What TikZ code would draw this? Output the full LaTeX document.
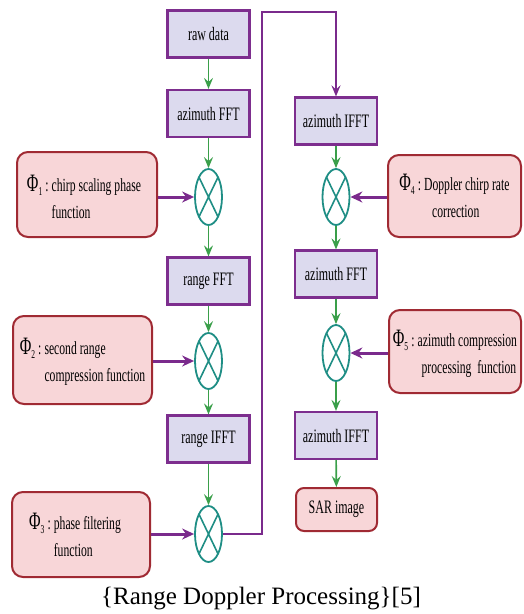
\documentclass[tikz,border=0pt]{standalone}
\usepackage{fontspec}
\setmainfont{Liberation Serif}
\newfontfamily\condfont{Liberation Serif}[FakeStretch=0.63]
\usetikzlibrary{shapes.geometric,arrows.meta}
\definecolor{boxfill}{HTML}{DCDAEE}
\definecolor{boxline}{HTML}{7D2E8E}
\definecolor{redfill}{HTML}{F8D6D8}
\definecolor{redline}{HTML}{A02A33}
\definecolor{tealx}{HTML}{1F8E85}
\definecolor{arrowgreen}{HTML}{3A9F4A}
\definecolor{purp}{HTML}{7A2A8C}
\newcommand\phisym[1]{{\fontsize{25}{25}\selectfont Φ}\raisebox{-4pt}{\fontsize{12}{12}\selectfont #1}\,:\,}
\tikzset{
  procbox/.style={draw=boxline, fill=boxfill, line width=2.2pt, minimum width=82pt, minimum height=47pt, inner sep=0pt, font=\condfont\fontsize{19}{22}\selectfont},
  phibox/.style={draw=redline, fill=redfill, line width=2pt, rounded corners=11pt, inner sep=0pt},
  phitext/.style={inner sep=0pt, font=\condfont\fontsize{18.5}{27}\selectfont},
  sarbox/.style={draw=redline, fill=redfill, line width=2pt, rounded corners=8pt, minimum width=81pt, minimum height=43pt, inner sep=0pt, font=\condfont\fontsize{19}{22}\selectfont},
  mult/.style={draw=tealx, line width=1.8pt, ellipse, minimum width=27pt, minimum height=56pt, inner sep=0pt, fill=white,
    path picture={\draw[tealx, line width=1.6pt]
      ([shift={(-14.25pt,-29.7pt)}]path picture bounding box.center) -- ([shift={(14.25pt,29.7pt)}]path picture bounding box.center)
      ([shift={(-14.25pt,29.7pt)}]path picture bounding box.center) -- ([shift={(14.25pt,-29.7pt)}]path picture bounding box.center);}},
  garrow/.style={draw=arrowgreen, line width=1.6pt, -{Stealth[length=11pt,width=9pt,inset=4pt]}},
  parrow/.style={draw=purp, line width=3pt, -{Stealth[length=12pt,width=11pt,inset=4pt]}},
  ploop/.style={draw=purp, line width=1.8pt, -{Stealth[length=11pt,width=9pt,inset=4pt]}},
}
\begin{document}
\begin{tikzpicture}[x=1pt,y=-1pt]
\useasboundingbox (0,0) rectangle (523,614);
% left column
\node[procbox] (raw) at (208.5,34) {raw data};
\node[procbox] (azfft1) at (208.5,113.5) {azimuth FFT};
\node[mult] (m1) at (208.5,197) {};
\node[procbox] (rfft) at (208.5,281) {range FFT};
\node[mult] (m2) at (208.5,361) {};
\node[procbox] (rifft) at (208.5,439) {range IFFT};
\node[mult] (m3) at (208.5,534) {};
% right column
\node[procbox] (azifft1) at (336,121) {azimuth IFFT};
\node[mult] (m4) at (336,197) {};
\node[procbox] (azfft2) at (336,274) {azimuth FFT};
\node[mult] (m5) at (336,353) {};
\node[procbox] (azifft2) at (336,435.5) {azimuth IFFT};
\node[sarbox] (sar) at (336.5,509.5) {SAR image};
% phase function boxes
\node[phibox, minimum width=140pt, minimum height=85pt] (p1) at (87,194.5) {};
\node[phitext] (p1t) at ([yshift=-5pt, xshift=-3pt]p1.center) {\phisym{1}\begin{tabular}[t]{@{}l@{}}chirp scaling phase\\function\end{tabular}};
\node[phibox, minimum width=139pt, minimum height=88pt] (p2) at (82.5,360) {};
\node[phitext] (p2t) at ([yshift=-3pt]p2.center) {\phisym{2}\begin{tabular}[t]{@{}l@{}}second range\\compression function\end{tabular}};
\node[phibox, minimum width=138pt, minimum height=85pt] (p3) at (81,534.5) {};
\node[phitext] (p3t) at ([yshift=-3pt, xshift=-6pt]p3.center) {\phisym{3}\begin{tabular}[t]{@{}l@{}}phase filtering\\function\end{tabular}};
\node[phibox, minimum width=133pt, minimum height=82pt] (p4) at (454.5,196) {};
\node[phitext] (p4t) at ([yshift=-3pt]p4.center) {\phisym{4}\begin{tabular}[t]{@{}l@{}}Doppler chirp rate\\\hspace{8pt}correction\end{tabular}};
\node[phibox, minimum width=132pt, minimum height=83pt] (p5) at (455,351.5) {};
\node[phitext] (p5t) at ([yshift=-3pt]p5.center) {\phisym{5}\begin{tabular}[t]{@{}l@{}}azimuth compression\\\hspace{4pt}processing\ \ function\end{tabular}};
% green flow arrows
\draw[garrow] (raw) -- (azfft1);
\draw[garrow] (azfft1) -- (m1);
\draw[garrow] (m1) -- (rfft);
\draw[garrow] (rfft) -- (m2);
\draw[garrow] (m2) -- (rifft);
\draw[garrow] (rifft) -- (m3);
\draw[garrow] (azifft1) -- (m4);
\draw[garrow] (m4) -- (azfft2);
\draw[garrow] (azfft2) -- (m5);
\draw[garrow] (m5) -- (azifft2);
\draw[garrow] (azifft2) -- (sar);
% phase function inputs
\draw[parrow] (p1.east |- m1.west) -- (m1.west);
\draw[parrow] (p2.east |- m2.west) -- (m2.west);
\draw[parrow] (p3.east |- m3.west) -- (m3.west);
\draw[parrow] (p4.west |- m4.east) -- (m4.east);
\draw[parrow] (p5.west |- m5.east) -- (m5.east);
% loop connector
\coordinate (loopc) at (262,12);
\draw[ploop] (m3.east) -| (loopc) -| (azifft1.north);
% caption
\node[anchor=base, inner sep=0pt, font=\fontsize{25}{25}\selectfont] (cap) at (261,604) {\{Range Doppler Processing\}[5]};
\end{tikzpicture}
\end{document}
